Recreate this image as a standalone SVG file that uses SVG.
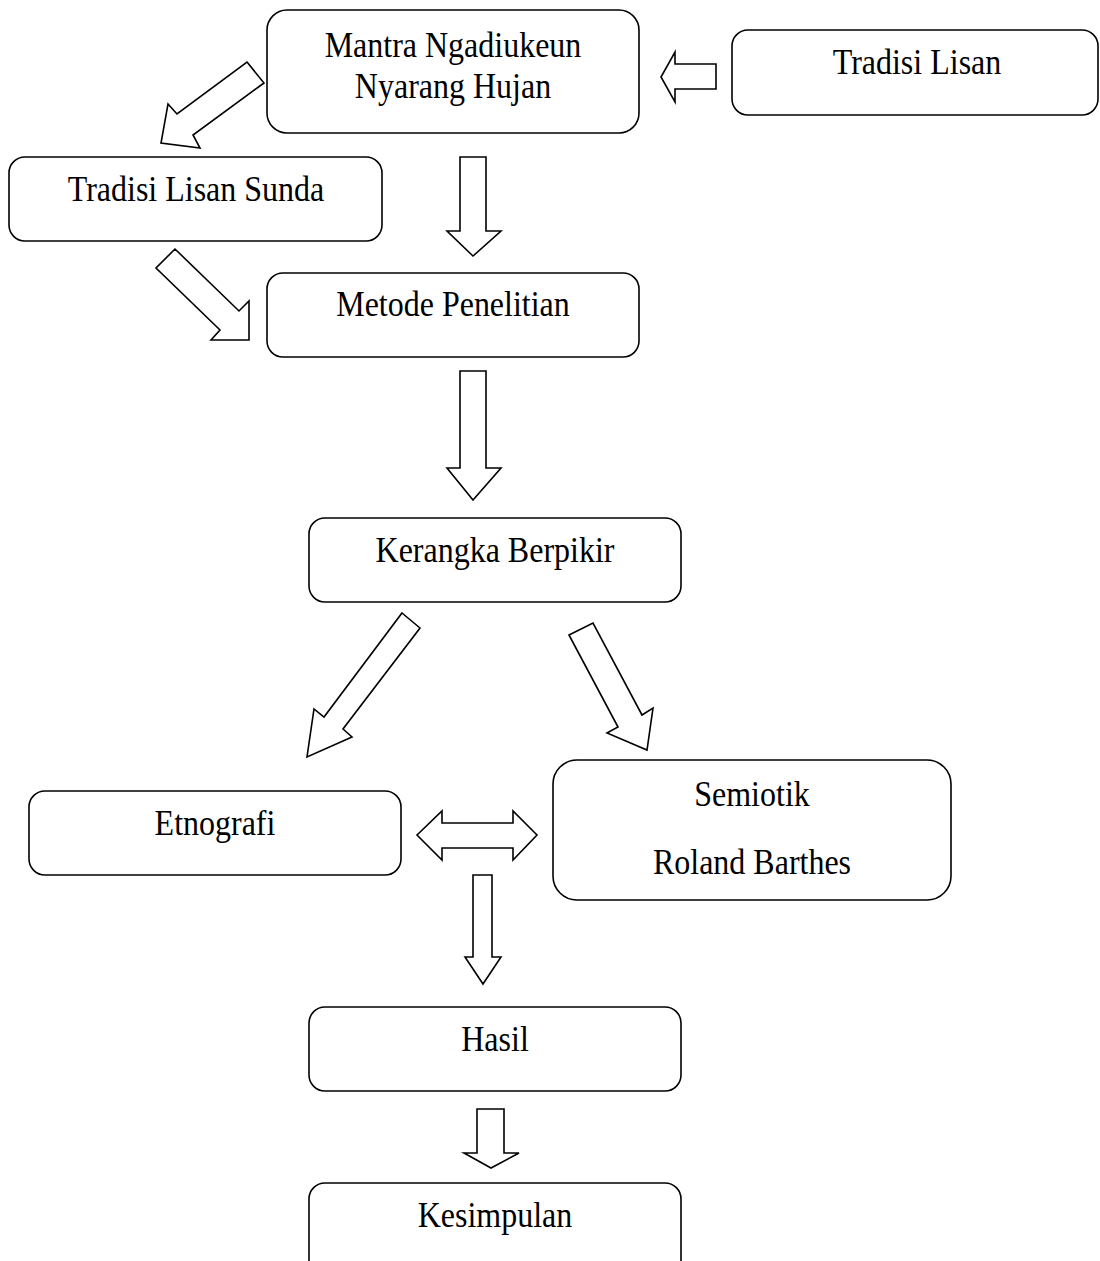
<svg xmlns="http://www.w3.org/2000/svg" width="1100" height="1261" viewBox="0 0 1100 1261">
<style>
.box{fill:#fff;stroke:#000;stroke-width:1.6}
.arr{fill:#fff;stroke:#000;stroke-width:1.6;stroke-linejoin:miter}
.t{font-family:"Liberation Serif","Times New Roman",serif;font-size:32px;fill:#000;text-anchor:middle}
</style>
<rect width="1100" height="1261" fill="#fff"/>
<g id="connectors">
<polygon class="arr" points="247,62 264,83 193,135 200,148 161,143 168,104 177,114"/>
<polygon class="arr" points="716,64 716,89 675,89 675,102 661,77 675,52 675,64"/>
<polygon class="arr" points="175,249 156,268 220,330 211,340 249,340 249,301 239,311"/>
<polygon class="arr" points="460,157 486,157 486,231 501,231 473,256 447,231 460,231"/>
<polygon class="arr" points="460,371 486,371 486,468 501,468 473,500 447,468 460,468"/>
<polygon class="arr" points="402,613 420,628 343,729 352,737 307,757 314,709 324,717"/>
<polygon class="arr" points="569,635 593,623 642,715 653,708 647,750 607,733 618,727"/>
<polygon class="arr" points="417,835 442,811 442,823 513,823 513,811 537,835 513,860 513,848 442,848 442,860"/>
<polygon class="arr" points="473,875 492,875 492,957 501,957 483,984 465,957 473,957"/>
<polygon class="arr" points="477,1109 504,1109 504,1153 519,1153 491,1168 464,1153 477,1153"/>
</g>
<g id="n-mantra"><rect class="box" x="267" y="10" width="372" height="123" rx="20"/>
<text class="t" transform="translate(453,57) scale(1,1.15)">Mantra Ngadiukeun</text>
<text class="t" transform="translate(453,98) scale(1,1.15)">Nyarang Hujan</text></g>
<g id="n-tradisi-lisan"><rect class="box" x="732" y="30" width="366" height="85" rx="16"/>
<text class="t" transform="translate(917,74) scale(1,1.15)">Tradisi Lisan</text></g>
<g id="n-sunda"><rect class="box" x="9" y="157" width="373" height="84" rx="16"/>
<text class="t" transform="translate(196,201) scale(1,1.15)">Tradisi Lisan Sunda</text></g>
<g id="n-metode"><rect class="box" x="267" y="273" width="372" height="84" rx="16"/>
<text class="t" transform="translate(453,316) scale(1,1.15)">Metode Penelitian</text></g>
<g id="n-kerangka"><rect class="box" x="309" y="518" width="372" height="84" rx="16"/>
<text class="t" transform="translate(495,562) scale(1,1.15)">Kerangka Berpikir</text></g>
<g id="n-etnografi"><rect class="box" x="29" y="791" width="372" height="84" rx="16"/>
<text class="t" transform="translate(215,835) scale(1,1.15)">Etnografi</text></g>
<g id="n-semiotik"><rect class="box" x="553" y="760" width="398" height="140" rx="24"/>
<text class="t" transform="translate(752,806) scale(1,1.15)">Semiotik</text>
<text class="t" transform="translate(752,874) scale(1,1.15)">Roland Barthes</text></g>
<g id="n-hasil"><rect class="box" x="309" y="1007" width="372" height="84" rx="16"/>
<text class="t" transform="translate(495,1051) scale(1,1.15)">Hasil</text></g>
<g id="n-kesimpulan"><rect class="box" x="309" y="1183" width="372" height="95" rx="16"/>
<text class="t" transform="translate(495,1227) scale(1,1.15)">Kesimpulan</text></g>
</svg>
